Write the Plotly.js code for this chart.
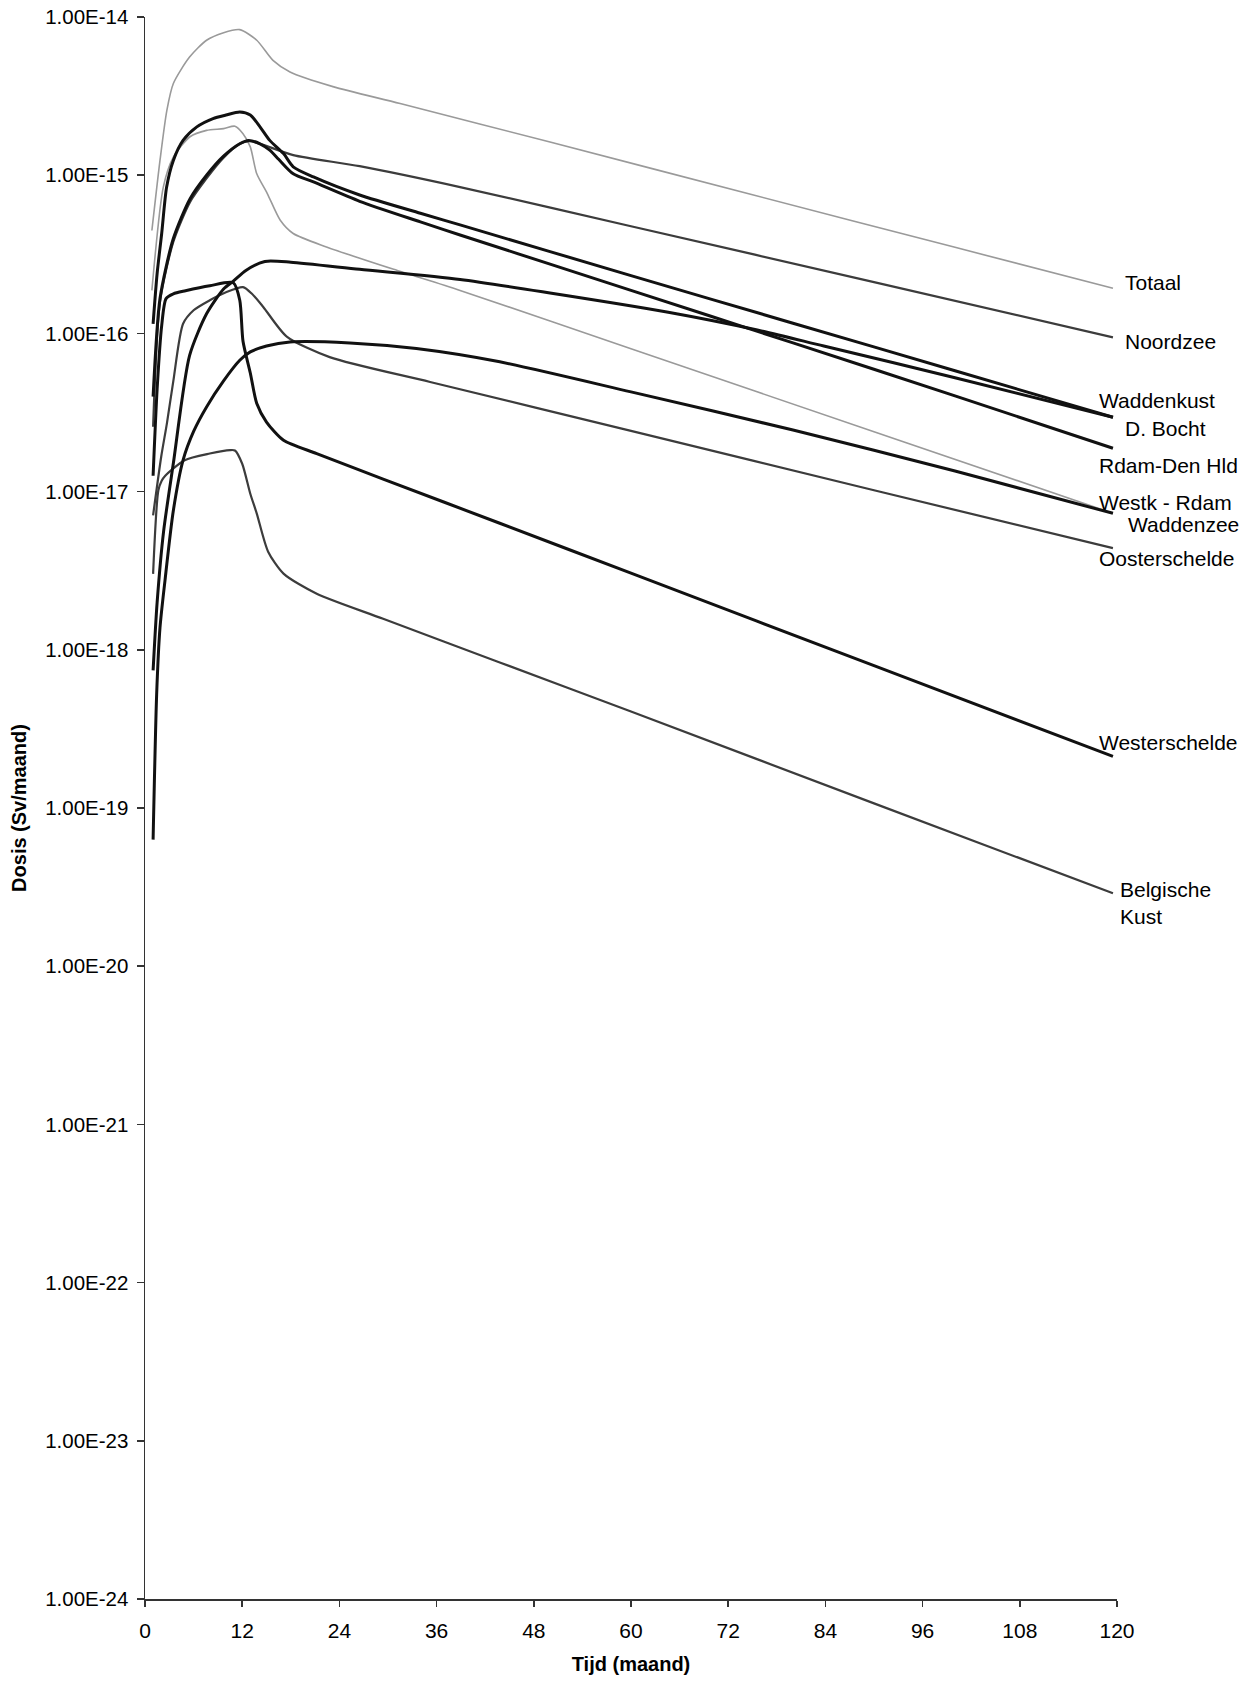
<!DOCTYPE html>
<html>
<head>
<meta charset="utf-8">
<script src="https://cdn.plot.ly/plotly-3.0.1.min.js"></script>
<style>
  html, body { margin: 0; padding: 0; background: #ffffff; }
  #chart { width: 1250px; height: 1682px; }
</style>
</head>
<body>
<div id="chart"></div>
<script>
// Dose per month (Sv/maand) against time (maand), per sea area

const totaalT = [0.85, 1.85, 2.7, 3.5, 5.5, 7.6, 9.7, 11.7, 13.8, 15.8, 17.9, 23.2, 31.5, 50, 75, 100, 119.5];
const totaalD = [4.47e-16, 1.24e-15, 2.57e-15, 3.80e-15, 5.58e-15, 7.13e-15, 7.96e-15, 8.32e-15, 7.13e-15, 5.32e-15, 4.49e-15, 3.63e-15, 2.84e-15, 1.62e-15, 7.52e-16, 3.50e-16, 1.93e-16];

const noordzeeT = [1, 1.85, 3.5, 5.55, 7.6, 9.7, 11.7, 12.8, 14.2, 18.3, 26.5, 38.9, 60, 90, 119.5];
const noordzeeD = [2.57e-17, 1.58e-16, 3.80e-16, 6.76e-16, 9.55e-16, 1.29e-15, 1.58e-15, 1.64e-15, 1.58e-15, 1.34e-15, 1.14e-15, 8.41e-16, 4.76e-16, 2.11e-16, 9.44e-17];

const waddenkustT = [1, 1.5, 2.06, 2.67, 3.5, 4.7, 6.4, 8.4, 10, 11.7, 13, 14.2, 15.4, 17.1, 18.3, 20.8, 26.5, 34, 38.9, 60, 80, 100, 119.5];
const waddenkustD = [1.15e-16, 2.40e-16, 4.28e-16, 8.41e-16, 1.24e-15, 1.66e-15, 2.02e-15, 2.28e-15, 2.40e-15, 2.51e-15, 2.40e-15, 2.02e-15, 1.66e-15, 1.37e-15, 1.13e-15, 9.75e-16, 7.50e-16, 5.75e-16, 4.85e-16, 2.32e-16, 1.16e-16, 5.81e-17, 2.95e-17];

const dBochtT = [1, 1.5, 2.3, 3.5, 5.5, 7.6, 9.7, 10.9, 12.5, 14.8, 18, 26.5, 38.9, 50, 64.6, 75.6, 83.8, 100, 119.5];
const dBochtD = [7.41e-19, 2.00e-18, 5.62e-18, 1.51e-17, 7.24e-17, 1.33e-16, 1.91e-16, 2.14e-16, 2.51e-16, 2.85e-16, 2.82e-16, 2.54e-16, 2.19e-16, 1.80e-16, 1.36e-16, 1.05e-16, 8.32e-17, 5.25e-17, 2.95e-17];

const rdamDenHldT = [1, 1.85, 3.5, 5.55, 7.6, 9.7, 11.7, 12.8, 14.2, 15.4, 16.5, 18.3, 20.8, 26.5, 34, 38.9, 60, 80, 100, 119.5];
const rdamDenHldD = [3.98e-17, 1.66e-16, 3.98e-16, 7.08e-16, 1.00e-15, 1.32e-15, 1.58e-15, 1.66e-15, 1.58e-15, 1.44e-15, 1.26e-15, 1.02e-15, 9.06e-16, 6.84e-16, 5.07e-16, 4.19e-16, 1.87e-16, 8.71e-17, 4.03e-17, 1.88e-17];

const westkRdamT = [1, 1.44, 1.85, 2.47, 3.5, 4.7, 6, 7.6, 9.7, 11.7, 13, 15, 17.9, 25.3, 33.5, 43.8, 60, 80, 100, 119.5];
const westkRdamD = [6.31e-20, 5.25e-19, 1.38e-18, 2.75e-18, 7.59e-18, 1.58e-17, 2.40e-17, 3.43e-17, 5.01e-17, 6.76e-17, 7.64e-17, 8.32e-17, 8.83e-17, 8.71e-17, 8.02e-17, 6.61e-17, 4.27e-17, 2.45e-17, 1.35e-17, 7.29e-18];

const waddenzeeT = [0.85, 2.26, 3.5, 5.55, 7.6, 9.7, 11.1, 12.1, 13, 13.8, 15.1, 16.7, 18.3, 22.4, 30.7, 38.9, 60, 90, 119.5];
const waddenzeeD = [1.87e-16, 8.41e-16, 1.30e-15, 1.75e-15, 1.92e-15, 1.97e-15, 2.04e-15, 1.83e-15, 1.51e-15, 1.02e-15, 7.66e-16, 5.19e-16, 4.28e-16, 3.52e-16, 2.54e-16, 1.87e-16, 8.00e-17, 2.39e-17, 7.29e-18];

const oosterscheldeT = [1, 2, 2.7, 3.5, 4.7, 6, 8, 10, 12.1, 13.2, 14.6, 17.5, 22.8, 35.2, 60, 90, 119.5];
const oosterscheldeD = [7.08e-18, 1.66e-17, 2.69e-17, 5.01e-17, 1.15e-16, 1.40e-16, 1.62e-16, 1.82e-16, 1.96e-16, 1.78e-16, 1.47e-16, 9.55e-17, 7.08e-17, 4.93e-17, 2.42e-17, 1.02e-17, 4.39e-18];

const westerscheldeT = [1, 1.5, 2.06, 2.6, 3.5, 5, 8, 10.9, 11.7, 12.1, 13, 13.8, 15, 17.1, 21.2, 29.4, 43.8, 60, 90, 119.5];
const westerscheldeD = [1.26e-17, 4.47e-17, 1.12e-16, 1.66e-16, 1.78e-16, 1.86e-16, 2.00e-16, 2.09e-16, 1.62e-16, 8.91e-17, 5.62e-17, 3.60e-17, 2.75e-17, 2.11e-17, 1.74e-17, 1.20e-17, 6.31e-18, 3.05e-18, 7.94e-19, 2.12e-19];

const belgischeKustT = [1, 1.65, 2.06, 2.5, 4.9, 8, 10.5, 11.1, 12, 13, 13.8, 15.2, 17.1, 21.2, 29.4, 43.8, 60, 90, 119.5];
const belgischeKustD = [3.02e-18, 1.02e-17, 1.17e-17, 1.26e-17, 1.58e-17, 1.74e-17, 1.83e-17, 1.82e-17, 1.50e-17, 9.70e-18, 7.26e-18, 4.17e-18, 3.03e-18, 2.26e-18, 1.57e-18, 8.32e-19, 4.07e-19, 1.07e-19, 2.89e-20];

const monthTicks = [0, 12, 24, 36, 48, 60, 72, 84, 96, 108, 120];
const doseTicks = [1e-14, 1e-15, 1e-16, 1e-17, 1e-18, 1e-19, 1e-20, 1e-21, 1e-22, 1e-23, 1e-24];
const doseTickText = ['1.00E-14', '1.00E-15', '1.00E-16', '1.00E-17', '1.00E-18', '1.00E-19', '1.00E-20', '1.00E-21', '1.00E-22', '1.00E-23', '1.00E-24'];

// line looks: black solid, dark grainy, light grey
const solid = { color: '#111111', width: 3 };
const darkGrey = { color: '#3c3c3c', width: 2.2 };
const lightGrey = { color: '#9a9a9a', width: 1.6 };

function series(name, t, d, style) {
  return {
    type: 'scatter', mode: 'lines', name: name,
    x: t, y: d,
    line: { color: style.color, width: style.width, shape: 'spline', smoothing: 0.7 },
    hoverinfo: 'x+y+name'
  };
}

// draw order: grey lines first, black lines on top
const traces = [
  series('Totaal', totaalT, totaalD, lightGrey),
  series('Waddenzee', waddenzeeT, waddenzeeD, lightGrey),
  series('Noordzee', noordzeeT, noordzeeD, darkGrey),
  series('Oosterschelde', oosterscheldeT, oosterscheldeD, darkGrey),
  series('Belgische Kust', belgischeKustT, belgischeKustD, darkGrey),
  series('Waddenkust', waddenkustT, waddenkustD, solid),
  series('D. Bocht', dBochtT, dBochtD, solid),
  series('Rdam-Den Hld', rdamDenHldT, rdamDenHldD, solid),
  series('Westk - Rdam', westkRdamT, westkRdamD, solid),
  series('Westerschelde', westerscheldeT, westerscheldeD, solid)
];

// end-of-line labels (paper coordinates)
const endLabels = [
  { text: 'Totaal', x: 1.006, y: 0.832 },
  { text: 'Noordzee', x: 1.006, y: 0.7946 },
  { text: 'Waddenkust', x: 0.979, y: 0.7573 },
  { text: 'D. Bocht', x: 1.006, y: 0.7396 },
  { text: 'Rdam-Den Hld', x: 0.979, y: 0.7168 },
  { text: 'Westk - Rdam', x: 0.979, y: 0.6928 },
  { text: 'Waddenzee', x: 1.009, y: 0.6795 },
  { text: 'Oosterschelde', x: 0.979, y: 0.658 },
  { text: 'Westerschelde', x: 0.979, y: 0.5411 },
  { text: 'Belgische<br>Kust', x: 1.001, y: 0.4399 }
];

const baseFont = 'Liberation Sans, Arial, Helvetica, sans-serif';

const layout = {
  width: 1250,
  height: 1682,
  paper_bgcolor: '#ffffff',
  plot_bgcolor: '#ffffff',
  showlegend: false,
  margin: { l: 145, r: 133, t: 17, b: 83 },
  font: { family: baseFont, color: '#000000', size: 20 },
  xaxis: {
    range: [0, 120],
    tickvals: monthTicks,
    ticktext: monthTicks.map(String),
    ticks: 'outside', ticklen: 6, tickwidth: 1.5, tickcolor: '#333333',
    showline: true, linecolor: '#333333', linewidth: 1.5,
    showgrid: false, zeroline: false,
    tickfont: { family: 'Liberation Sans Narrow, Arial Narrow, ' + baseFont, size: 21, color: '#000000' },
    ticklabelstandoff: 6,
    title: { text: '<b>Tijd (maand)</b>', font: { family: baseFont, size: 20, color: '#000000' }, standoff: 16 }
  },
  yaxis: {
    type: 'log',
    range: [-24, -14],
    tickvals: doseTicks,
    ticktext: doseTickText,
    ticks: 'outside', ticklen: 7, tickwidth: 1.5, tickcolor: '#333333',
    showline: true, linecolor: '#333333', linewidth: 1.5,
    showgrid: false, zeroline: false,
    tickfont: { family: baseFont, size: 20.5, color: '#000000' },
    ticklabelstandoff: 4,
    title: { text: '<b>Dosis (Sv/maand)</b>', font: { family: baseFont, size: 20, color: '#000000' }, standoff: 13 }
  },
  annotations: endLabels.map(l => ({
    text: l.text, xref: 'paper', yref: 'paper', x: l.x, y: l.y,
    xanchor: 'left', yanchor: 'middle', align: 'left', showarrow: false,
    font: { family: baseFont, size: 21, color: '#000000' }
  }))
};

Plotly.newPlot('chart', traces, layout, { displayModeBar: false, staticPlot: true });
</script>
</body>
</html>
